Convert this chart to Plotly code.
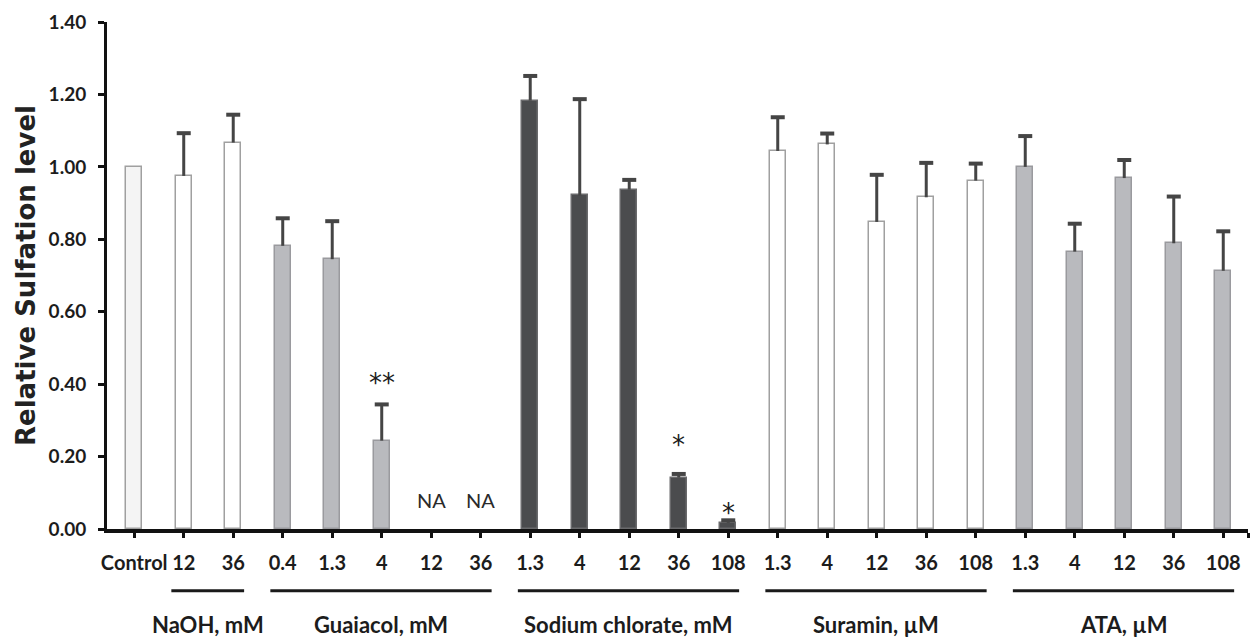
import plotly.graph_objects as go

# ---- data ----
categories = ["Control", "12", "36", "0.4", "1.3", "4", "12", "36",
              "1.3", "4", "12", "36", "108",
              "1.3", "4", "12", "36", "108",
              "1.3", "4", "12", "36", "108"]
values = [1.00, 0.975, 1.067, 0.782, 0.745, 0.244, None, None,
          1.183, 0.921, 0.937, 0.142, 0.017,
          1.044, 1.062, 0.848, 0.916, 0.962,
          1.000, 0.766, 0.969, 0.789, 0.713]
errors = [None, 0.118, 0.077, 0.076, 0.105, 0.100, None, None,
          0.068, 0.266, 0.027, 0.010, 0.007,
          0.093, 0.030, 0.130, 0.095, 0.047,
          0.085, 0.077, 0.050, 0.129, 0.109]
group_of = ["control", "naoh", "naoh", "gua", "gua", "gua", "gua", "gua",
            "chl", "chl", "chl", "chl", "chl",
            "sur", "sur", "sur", "sur", "sur",
            "ata", "ata", "ata", "ata", "ata"]
group_names = ["NaOH, mM", "Guaiacol, mM", "Sodium chlorate, mM", "Suramin, µM", "ATA, µM"]
group_keys = ["naoh", "gua", "chl", "sur", "ata"]
significance = {5: "**", 11: "*", 12: "*"}
not_available = [6, 7]

fill = {"control": "#f4f4f4", "naoh": "#ffffff", "gua": "#b9babe",
        "chl": "#4b4c4e", "sur": "#ffffff", "ata": "#b9babe"}
edge = {"control": "#a0a0a0", "naoh": "#a0a0a0", "gua": "#9a9a9e",
        "chl": "#6a6a6c", "sur": "#a0a0a0", "ata": "#9a9a9e"}

idx = list(range(len(categories)))
FONT = "Lato"
TXT = "#1c1c1c"
ERR = "#454545"

fig = go.Figure()
fig.add_trace(go.Bar(
    x=idx, y=values, width=0.32,
    marker=dict(color=[fill[g] for g in group_of],
                line=dict(color=[edge[g] for g in group_of], width=1.5)),
    error_y=dict(type="data", symmetric=False,
                 array=[e if e is not None else 0 for e in errors],
                 arrayminus=[0] * len(errors),
                 color=ERR, thickness=3, width=0),
    showlegend=False, hoverinfo="skip"))

# caps on top of the upper error bars
cap_x = [i for i in idx if errors[i] is not None]
cap_y = [values[i] + errors[i] for i in cap_x]
fig.add_trace(go.Scatter(
    x=cap_x, y=cap_y, mode="markers",
    marker=dict(symbol="line-ew", size=10, line=dict(color=ERR, width=4)),
    showlegend=False, hoverinfo="skip"))

annotations = []
shifts = {5: 4, 11: 12, 12: -10}
for i, s in significance.items():
    annotations.append(dict(x=i, y=values[i] + errors[i], xref="x", yref="y",
                            text=s, showarrow=False, yanchor="bottom",
                            yshift=shifts[i],
                            font=dict(family="DejaVu Sans", size=26, color=TXT)))
for i in not_available:
    annotations.append(dict(x=i, y=0, xref="x", yref="y", text="NA",
                            showarrow=False, yanchor="bottom", yshift=15,
                            font=dict(family=FONT, size=20, color="#2a2a2a")))

shapes = []
for key, name in zip(group_keys, group_names):
    members = [i for i, g in enumerate(group_of) if g == key]
    x0, x1 = min(members) - 0.25, max(members) + 0.22
    shapes.append(dict(type="line", xref="x", yref="paper", x0=x0, x1=x1,
                       y0=-0.122, y1=-0.122, line=dict(color="#1a1a1a", width=3)))
    annotations.append(dict(x=(x0 + x1) / 2, y=-0.188, xref="x", yref="paper",
                            text=name, showarrow=False, yanchor="middle",
                            font=dict(family=FONT, size=22, color=TXT, weight=700)))

fig.update_layout(
    width=1258, height=643,
    margin=dict(l=107, r=10, t=18, b=114),
    plot_bgcolor="white", paper_bgcolor="white",
    bargap=0, shapes=shapes, annotations=annotations,
    xaxis=dict(range=[-0.55, 22.5], tickmode="array",
               tickvals=idx + [22.5], ticktext=categories + [""],
               showline=True, linecolor="#111111", linewidth=4,
               ticks="outside", ticklen=5, tickwidth=3, tickcolor="#111111",
               tickfont=dict(family=FONT, size=20, color=TXT, weight=700),
               ticklabelstandoff=8, showgrid=False, zeroline=False),
    yaxis=dict(range=[0, 1.4], tickmode="linear", tick0=0, dtick=0.2,
               tickformat=".2f",
               showline=True, linecolor="#111111", linewidth=3,
               ticks="outside", ticklen=6, tickwidth=3, tickcolor="#111111",
               tickfont=dict(family=FONT, size=19, color=TXT, weight=700),
               ticklabelstandoff=8, showgrid=False, zeroline=False,
               title=dict(text="Relative Sulfation level", standoff=6,
                          font=dict(family="DejaVu Sans", size=26, color="#222222",
                                    weight=700))),
)

fig.write_html("out.html")
